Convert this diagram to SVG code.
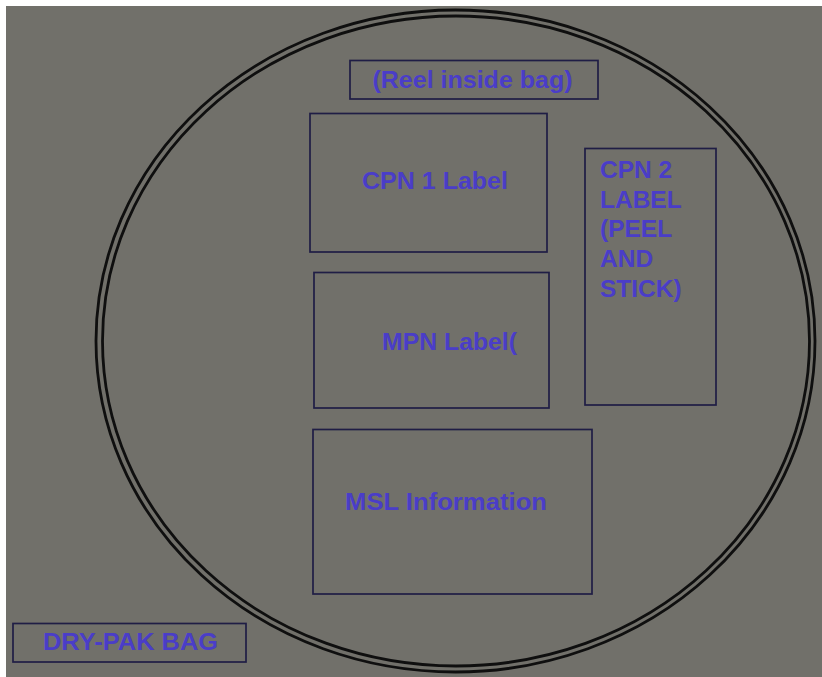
<svg xmlns="http://www.w3.org/2000/svg" width="822" height="677" viewBox="0 0 822 677">
  <style>
    .box { fill: none; stroke: #1f1d45; stroke-width: 1.7; }
    .ring { fill: none; stroke: #0f0f0f; stroke-width: 2.8; }
    .lbl { font-family: "Liberation Sans", Arial, sans-serif; font-weight: bold; font-size: 24.5px; fill: #4a3dc8; }
  </style>
  <rect x="0" y="0" width="822" height="677" fill="#ffffff"/>
  <rect x="6" y="6" width="816" height="671" fill="#71706a"/>

  <g id="bag-outline">
    <ellipse class="ring" cx="455.5" cy="341" rx="359.5" ry="331"/>
    <ellipse class="ring" cx="456" cy="341" rx="353.5" ry="325"/>
  </g>

  <g id="reel-inside-bag">
    <rect class="box" x="350" y="60.5" width="248" height="38.5"/>
    <text class="lbl" x="472.5" y="88" text-anchor="middle" textLength="200" lengthAdjust="spacingAndGlyphs">(Reel inside bag)</text>
  </g>

  <g id="cpn1-label">
    <rect class="box" x="310" y="113.5" width="237" height="138.5"/>
    <text class="lbl" x="435" y="189" text-anchor="middle" textLength="146" lengthAdjust="spacingAndGlyphs">CPN 1 Label</text>
  </g>

  <g id="cpn2-label">
    <rect class="box" x="585" y="148.5" width="131" height="256.5"/>
    <text class="lbl" x="600" y="178">CPN 2</text>
    <text class="lbl" x="600" y="208">LABEL</text>
    <text class="lbl" x="600" y="237">(PEEL</text>
    <text class="lbl" x="600" y="267">AND</text>
    <text class="lbl" x="600" y="297">STICK)</text>
  </g>

  <g id="mpn-label">
    <rect class="box" x="314" y="272.5" width="235" height="135.5"/>
    <text class="lbl" x="449.5" y="350" text-anchor="middle" textLength="135" lengthAdjust="spacingAndGlyphs">MPN Label(</text>
  </g>

  <g id="msl-information">
    <rect class="box" x="313" y="429.5" width="279" height="164.5"/>
    <text class="lbl" x="446" y="510" text-anchor="middle" textLength="202" lengthAdjust="spacingAndGlyphs">MSL Information</text>
  </g>

  <g id="dry-pak-bag">
    <rect class="box" x="13" y="623.5" width="233" height="38.5"/>
    <text class="lbl" x="130.5" y="650" text-anchor="middle" textLength="175" lengthAdjust="spacingAndGlyphs">DRY-PAK BAG</text>
  </g>
</svg>
